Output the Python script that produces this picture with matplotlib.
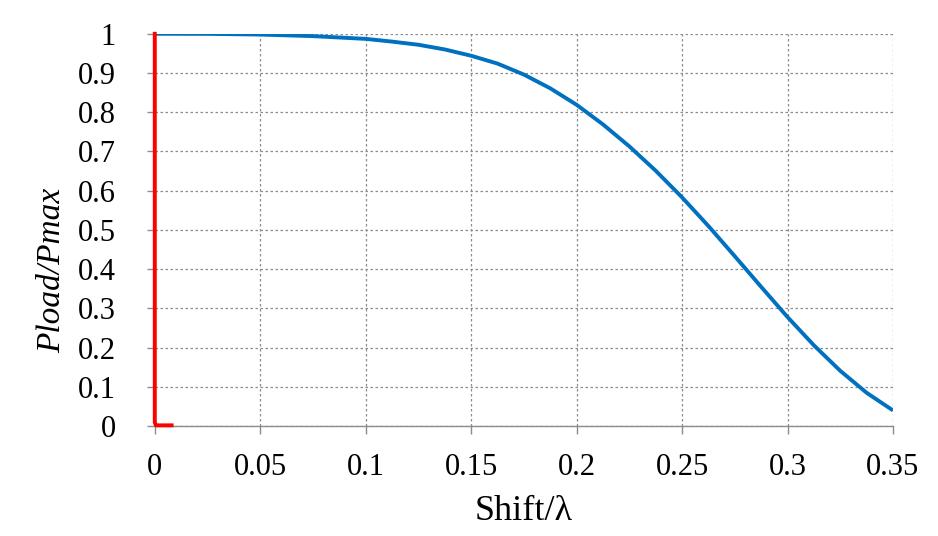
import matplotlib
matplotlib.use("Agg")
import matplotlib.pyplot as plt

# blue curve
shift = [0, 0.025, 0.05, 0.075, 0.1, 0.1125, 0.125, 0.1375, 0.15, 0.1625, 0.175,
         0.1875, 0.2, 0.2125, 0.225, 0.2375, 0.25, 0.2625, 0.275, 0.2875, 0.3,
         0.3125, 0.325, 0.3375, 0.35]
pload = [1.0, 0.9998, 0.998, 0.994, 0.987, 0.980, 0.972, 0.960, 0.944, 0.924, 0.896,
         0.861, 0.819, 0.769, 0.713, 0.651, 0.583, 0.510, 0.433, 0.355, 0.278,
         0.206, 0.141, 0.085, 0.040]

# red trace near the origin
red_x = [0, 0, 0.0005, 0.008]
red_y = [1.0, 0.01, 0.002, 0.002]

xticks = [0, 0.05, 0.1, 0.15, 0.2, 0.25, 0.3, 0.35]
xlabels = ['0', '0.05', '0.1', '0.15', '0.2', '0.25', '0.3', '0.35']
yticks = [0, 0.1, 0.2, 0.3, 0.4, 0.5, 0.6, 0.7, 0.8, 0.9, 1.0]
ylabels = ['0', '0.1', '0.2', '0.3', '0.4', '0.5', '0.6', '0.7', '0.8', '0.9', '1']

serif = ['Liberation Serif', 'DejaVu Serif']

fig = plt.figure(figsize=(9.38, 5.36), dpi=100)
ax = fig.add_axes([0.165, 0.205, 0.787, 0.732])

ax.plot(shift, pload, '-', color='#0070C0', lw=2.8, zorder=3,
        solid_capstyle='butt', solid_joinstyle='round')
ax.plot(red_x, red_y, '-', color='#FF0000', lw=2.8, zorder=4, clip_on=False)

ax.set_xlim(0, 0.35)
ax.set_ylim(0, 1)
ax.set_xticks(xticks)
ax.set_xticklabels(xlabels)
ax.set_yticks(yticks)
ax.set_yticklabels(ylabels)

#dotted grey grid, only left and bottom spines drawn
ax.grid(True, color='#8c8c8c', linestyle=(0, (2, 2)), lw=0.9)
for s in ['top', 'right']:
    ax.spines[s].set_visible(False)
for s in ['left', 'bottom']:
    ax.spines[s].set_color('#8c8c8c')
    ax.spines[s].set_linewidth(1.0)
ax.tick_params(direction='out', color='#8c8c8c', length=6, width=1.0)
ax.tick_params(axis='x', pad=13)
ax.tick_params(axis='y', pad=22)
for t in ax.get_xticklabels() + ax.get_yticklabels():
    t.set_family(serif)
    t.set_fontsize(22)

ax.set_xlabel('Shift/\u03bb', family=serif, fontsize=26, labelpad=10)
ax.set_ylabel('Pload/Pmax', family=serif, style='italic', fontsize=24)
ax.yaxis.set_label_coords(-0.118, 0.398)

fig.savefig('out.png', dpi=100)
